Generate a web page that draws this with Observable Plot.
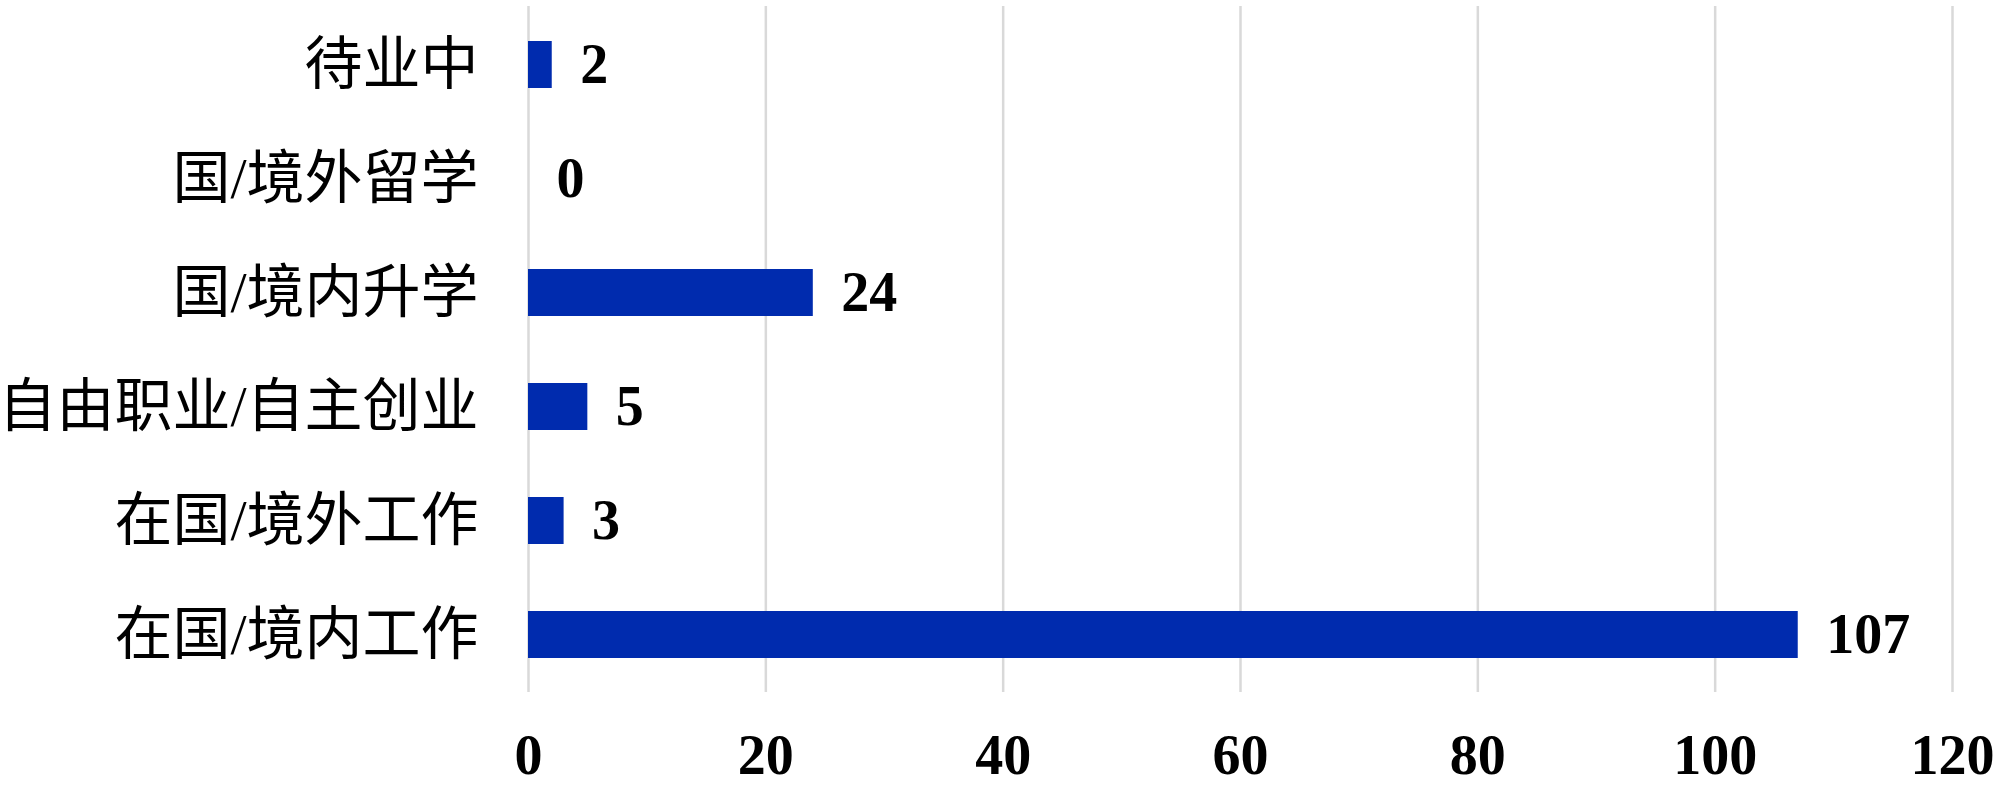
<!DOCTYPE html>
<html>
<head>
<meta charset="utf-8">
<script src="https://cdn.jsdelivr.net/npm/d3@7"></script>
<script src="https://cdn.jsdelivr.net/npm/@observablehq/plot@0.6"></script>
<style>
  html, body { margin: 0; padding: 0; background: #fff; }
  #chart svg { display: block; }
</style>
</head>
<body>
<div id="chart"></div>
<script>
const categories = ["待业中", "国/境外留学", "国/境内升学", "自由职业/自主创业", "在国/境外工作", "在国/境内工作"];
const values = [2, 0, 24, 5, 3, 107];
const xTicks = [0, 20, 40, 60, 80, 100, 120];

const data = categories.map((c, i) => ({category: c, value: values[i]}));

const serif = "'Liberation Serif', 'Times New Roman', 'Noto Sans CJK SC', serif";
const cjk = "'Liberation Serif', 'Noto Sans CJK SC', serif";

const chart = Plot.plot({
  width: 2000,
  height: 790,
  marginLeft: 528,
  marginRight: 48,
  marginTop: 6,
  marginBottom: 98,
  style: {background: "#fff", color: "#000", overflow: "visible"},
  x: {domain: [0, 120]},
  y: {domain: categories, paddingInner: 0.59, paddingOuter: 0.3, label: null},
  marks: [
    Plot.gridX(xTicks, {stroke: "#d9d9d9", strokeOpacity: 1, strokeWidth: 2.5}),
    Plot.barX(data, {x: "value", y: "category", fill: "#002BAE"}),
    Plot.text(data, {
      x: "value", y: "category", text: d => String(d.value),
      dx: 28, textAnchor: "start", fontSize: 56, fontWeight: "bold",
      fontFamily: serif, fill: "#000"
    }),
    Plot.axisX({ticks: xTicks, tickSize: 0, tickPadding: 42, fontSize: 56, fontWeight: "bold", fontFamily: serif, label: null}),
    Plot.axisY({tickSize: 0, tickPadding: 50, fontSize: 58, fontFamily: cjk, label: null})
  ]
});
document.getElementById("chart").appendChild(chart);
</script>
</body>
</html>
